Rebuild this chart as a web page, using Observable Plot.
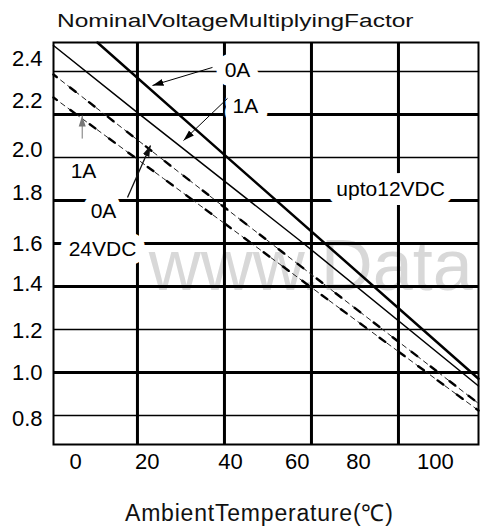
<!DOCTYPE html>
<html>
<head>
<meta charset="utf-8">
<script src="https://cdn.jsdelivr.net/npm/d3@7"></script>
<script src="https://cdn.jsdelivr.net/npm/@observablehq/plot@0.6"></script>
<style>
  html, body { margin: 0; padding: 0; background: #fff; overflow: hidden; width: 480px; height: 529px; }
  #wrap { position: relative; width: 480px; height: 529px; }
  #chart { position: absolute; left: 0; top: 0; }
  #title { position: absolute; left: 57px; top: 12px; font: 18px/18px "Liberation Sans", Arial, sans-serif;
           white-space: nowrap; transform: scaleX(1.36); transform-origin: 0 0; color: #111; }
  #xtitle { position: absolute; left: 125px; top: 502px; font: 23px/23px "Liberation Sans", Arial, sans-serif;
            white-space: nowrap; letter-spacing: 0.8px; color: #111; }
</style>
</head>
<body>
<div id="wrap">
  <div id="chart"></div>
  <div id="title">NominalVoltageMultiplyingFactor</div>
  <div id="xtitle">AmbientTemperature(℃)</div>
</div>
<script>
// ---- data (ambient temperature °C, voltage multiplying factor) ----
const temp12V0A = [10.8, 40.2, 98.4];
const factor12V0A = [2.535, 2.009, 0.971];

const temp12V1A = [0.7, 20.0, 58.2, 98.4];
const factor12V1A = [2.521, 2.209, 1.600, 0.937];

const temp24V0A = [0.7, 29.9, 98.4];
const factor24V0A = [2.386, 1.926, 0.856];

const temp24V1A = [0.7, 26.0, 98.4];
const factor24V1A = [2.279, 1.902, 0.823];

// grid
const xGrid = [20, 40, 60, 80];
const yGridMajor = [2.2, 1.8, 1.6, 1.4, 1.0];
const yGridMinor = [2.4, 2.0, 1.2, 0.8];

// tick labels and where they sit on the scanned chart
const xTickLabels = ["0", "20", "40", "60", "80", "100"];
const xTickAt = [5.76, 22.24, 41.39, 56.72, 70.81, 88.5];
const yTickLabels = ["2.4", "2.2", "2.0", "1.8", "1.6", "1.4", "1.2", "1.0", "0.8"];
const yTickAt = [2.46, 2.265, 2.033, 1.833, 1.6, 1.414, 1.195, 1.0, 0.786];

// annotations
const noteText = ["0A", "1A", "1A", "0A", "24VDC", "upto12VDC"];
const noteTemp = [43.0, 44.8, 7.6, 12.2, 11.96, 78.2];
const noteFactor = [2.405, 2.237, 1.935, 1.749, 1.572, 1.851];

const leaderFromTemp = [37.25, 40.7, 7.3, 17.71];
const leaderFromFactor = [2.419, 2.275, 2.088, 1.814];
const leaderToTemp = [23.46, 30.59, 7.3, 23.0];
const leaderToFactor = [2.335, 2.079, 2.195, 2.056];

const watermarkText = "www.Data";
const watermarkTemp = 22.6;
const watermarkFactor = 1.49;

// ---- build tables ----
const toRows = (xs, ys) => xs.map((x, i) => ({x, y: ys[i]}));
const s12V0A = toRows(temp12V0A, factor12V0A);
const s12V1A = toRows(temp12V1A, factor12V1A);
const s24V0A = toRows(temp24V0A, factor24V0A);
const s24V1A = toRows(temp24V1A, factor24V1A);
const xTicks = xTickLabels.map((label, i) => ({label, at: xTickAt[i]}));
const yTicks = yTickLabels.map((label, i) => ({label, at: yTickAt[i]}));
const notes = noteText.map((text, i) => ({text, x: noteTemp[i], y: noteFactor[i], i}));
const leaders = leaderFromTemp.map((x1, i) => ({x1, y1: leaderFromFactor[i], x2: leaderToTemp[i], y2: leaderToFactor[i], i}));

const font = "'Liberation Sans', Arial, sans-serif";

const dashedPair = (rows) => [
  Plot.line(rows, {x: "x", y: "y", stroke: "#222", strokeWidth: 1, strokeDasharray: "5,4"}),
  Plot.line(rows, {x: "x", y: "y", stroke: "black", strokeWidth: 2.4, strokeDasharray: "7,17", strokeDashoffset: 3})
];

const chart = Plot.plot({
  width: 480,
  height: 490,
  marginLeft: 53,
  marginRight: 2,
  marginTop: 42,
  marginBottom: 46,
  x: {domain: [0.7, 98.4], axis: null},
  y: {domain: [0.665, 2.535], axis: null},
  style: {fontFamily: font, background: "white", color: "black"},
  marks: [
    Plot.text([watermarkText], {x: () => watermarkTemp, y: () => watermarkFactor, text: d => d,
      textAnchor: "start", fontSize: 72, fill: "#d8d8d8"}),
    Plot.ruleY(yGridMinor, {stroke: "black", strokeWidth: 1.3}),
    Plot.ruleY(yGridMajor, {stroke: "black", strokeWidth: 3}),
    Plot.ruleX(xGrid, {stroke: "black", strokeWidth: 3}),
    Plot.frame({stroke: "black", strokeWidth: 2}),
    ...dashedPair(s24V0A),
    ...dashedPair(s24V1A),
    Plot.line(s12V1A, {x: "x", y: "y", stroke: "black", strokeWidth: 1.5}),
    Plot.line(s12V0A, {x: "x", y: "y", stroke: "black", strokeWidth: 2.5}),
    // labels with white boxes (halo)
    Plot.text(notes.filter(d => d.i !== 2), {x: "x", y: "y", text: "text", fontSize: 21, fill: "black",
      stroke: "white", strokeWidth: 18, strokeLinejoin: "round", paintOrder: "stroke"}),
    Plot.text(notes.filter(d => d.i === 2), {x: "x", y: "y", text: "text", fontSize: 21, fill: "black",
      stroke: "white", strokeWidth: 4, strokeLinejoin: "round", paintOrder: "stroke"}),
    // leader lines with arrowheads
    Plot.link(leaders.filter(d => d.i === 0 || d.i === 1), {x1: "x1", y1: "y1", x2: "x2", y2: "y2",
      stroke: "black", strokeWidth: 1, markerEnd: "arrow"}),
    Plot.link(leaders.filter(d => d.i === 2), {x1: "x1", y1: "y1", x2: "x2", y2: "y2",
      stroke: "#777", strokeWidth: 1, markerEnd: "arrow"}),
    Plot.link(leaders.filter(d => d.i === 3), {x1: "x1", y1: "y1", x2: "x2", y2: "y2",
      stroke: "#111", strokeWidth: 1.3, markerEnd: "arrow"}),
    // tick labels
    Plot.text(xTicks, {x: "at", text: "label", frameAnchor: "bottom", dy: 24, fontSize: 22, fill: "black"}),
    Plot.text(yTicks, {y: "at", text: "label", frameAnchor: "left", textAnchor: "end", dx: -11, fontSize: 22, fill: "black"})
  ]
});

// filled triangular arrowheads
d3.select(chart).selectAll("marker").each(function () {
  const m = d3.select(this);
  const c = m.attr("stroke") || "black";
  m.attr("viewBox", "-11 -4 12 8")
   .attr("markerUnits", "userSpaceOnUse")
   .attr("markerWidth", 12)
   .attr("markerHeight", 8)
   .attr("fill", c)
   .attr("stroke", "none");
  m.selectAll("path").attr("d", "M-11,-3.5L0,0L-11,3.5Z");
});

document.getElementById("chart").appendChild(chart);
</script>
</body>
</html>
